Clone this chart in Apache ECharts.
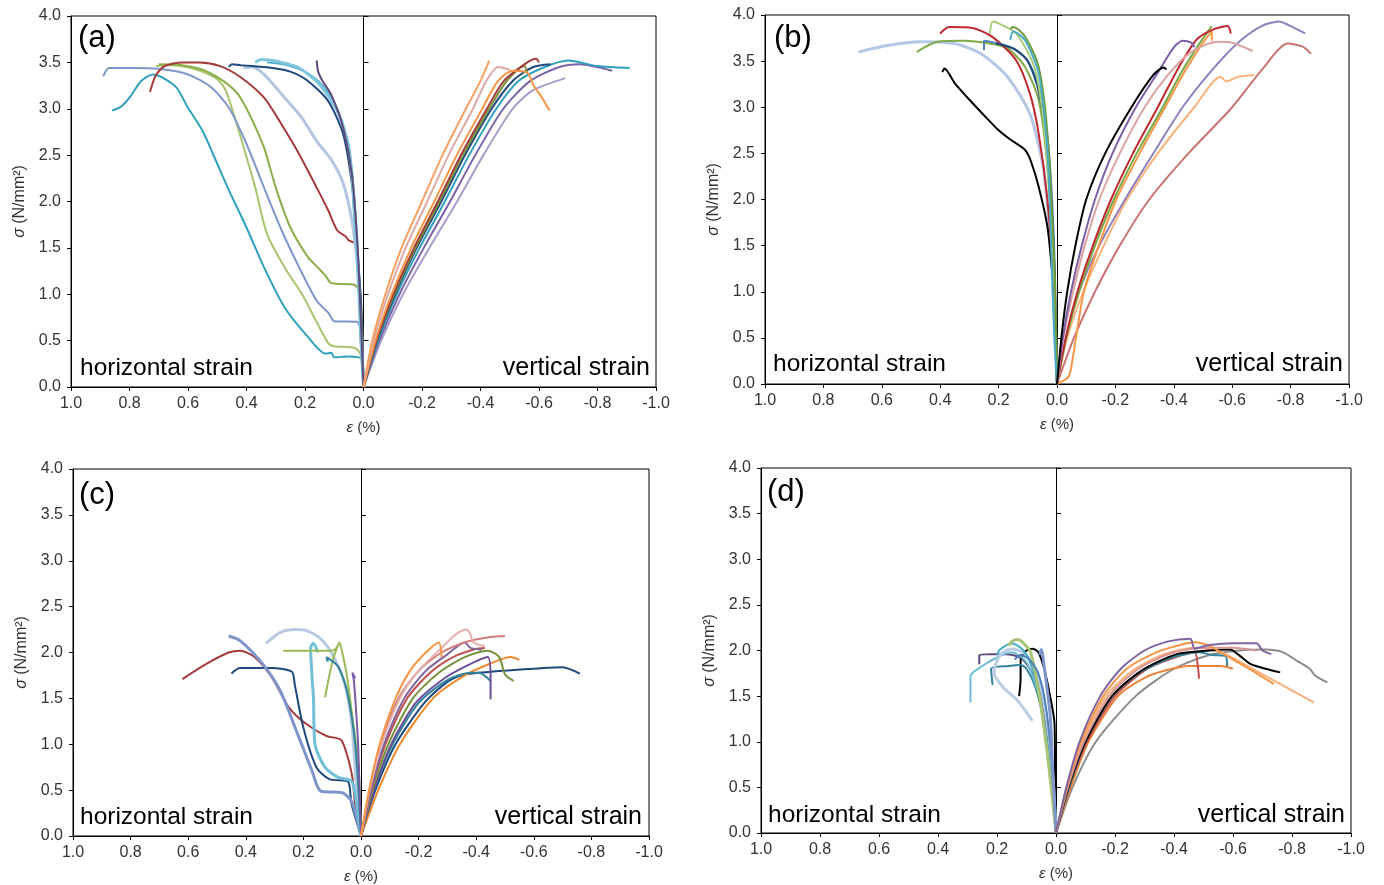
<!DOCTYPE html>
<html><head><meta charset="utf-8">
<script src="https://cdn.jsdelivr.net/npm/echarts/dist/echarts.min.js"></script>
<style>html,body{margin:0;padding:0;background:#fff}#c{width:1384px;height:885px}</style>
</head><body><div id="c"></div><script>
// ---------- tick labels ----------
const xTicks = [-1.0,-0.8,-0.6,-0.4,-0.2,0.0,0.2,0.4,0.6,0.8,1.0];
const yTicks = [0.0,0.5,1.0,1.5,2.0,2.5,3.0,3.5,4.0];
const panelLabels = ['(a)','(b)','(c)','(d)'];
const sideLabels = ['horizontal strain','vertical strain'];

// ---------- panel (a): [strain %, stress N/mm2] ----------
const a_h_teal = [[0,0],[0.005,0.3],[0.05,0.33],[0.10,0.32],[0.11,0.37],[0.13,0.36],[0.19,0.54],[0.27,0.86],[0.34,1.29],[0.40,1.72],[0.46,2.12],[0.51,2.48],[0.55,2.76],[0.60,3.01],[0.64,3.23],[0.69,3.34],[0.72,3.37],[0.76,3.30],[0.80,3.12],[0.83,3.02],[0.86,2.98]];
const a_h_lgreen = [[0,0],[0.01,0.35],[0.03,0.42],[0.10,0.44],[0.12,0.47],[0.16,0.7],[0.21,1.0],[0.27,1.29],[0.33,1.65],[0.37,2.15],[0.40,2.48],[0.43,2.8],[0.47,3.19],[0.50,3.32],[0.58,3.43],[0.66,3.47],[0.71,3.46]];
const a_h_olive = [[0,0],[0.01,1.0],[0.03,1.1],[0.11,1.12],[0.13,1.2],[0.16,1.3],[0.19,1.4],[0.25,1.72],[0.30,2.15],[0.34,2.58],[0.39,2.94],[0.43,3.16],[0.48,3.3],[0.55,3.42],[0.62,3.47],[0.70,3.48]];
const a_h_slate = [[0,0],[0.01,0.5],[0.02,0.7],[0.10,0.71],[0.12,0.8],[0.16,0.93],[0.22,1.29],[0.28,1.69],[0.34,2.15],[0.40,2.62],[0.46,3.01],[0.52,3.23],[0.60,3.37],[0.70,3.43],[0.79,3.44],[0.87,3.44],[0.89,3.35]];
const a_h_dred = [[0,0],[0.01,0.6],[0.02,1.3],[0.03,1.55],[0.05,1.58],[0.06,1.62],[0.09,1.69],[0.12,1.9],[0.16,2.15],[0.22,2.51],[0.28,2.83],[0.34,3.12],[0.42,3.34],[0.49,3.46],[0.56,3.5],[0.62,3.5],[0.68,3.46],[0.71,3.36],[0.73,3.18]];
const a_h_lgrey = [[0,0],[0.01,0.8],[0.02,1.3],[0.04,1.8],[0.07,2.2],[0.11,2.45],[0.16,2.65],[0.21,2.9],[0.27,3.12],[0.34,3.37],[0.38,3.45],[0.41,3.44]];
const a_h_navy = [[0,0],[0.01,1.0],[0.03,1.8],[0.04,2.2],[0.07,2.73],[0.12,3.08],[0.19,3.3],[0.25,3.4],[0.31,3.44],[0.38,3.46],[0.42,3.47],[0.45,3.48],[0.46,3.45]];
const a_h_lcyan = [[0,0],[0.01,0.6],[0.02,1.29],[0.03,1.8],[0.04,2.3],[0.06,2.7],[0.09,2.98],[0.15,3.26],[0.22,3.44],[0.28,3.5],[0.31,3.52],[0.35,3.53],[0.37,3.5]];
const a_h_aqua = [[0,0],[0.015,1.2],[0.03,2.0],[0.05,2.6],[0.09,3.0],[0.14,3.25],[0.2,3.4],[0.26,3.47],[0.33,3.5]];
const a_h_purple = [[0,0],[0.01,0.8],[0.02,1.5],[0.04,2.3],[0.07,2.8],[0.11,3.15],[0.14,3.3],[0.155,3.4],[0.16,3.52]];
const a_v_orange = [[0,0],[-0.03,0.5],[-0.075,1.0],[-0.13,1.5],[-0.2,2.0],[-0.27,2.5],[-0.35,3.0],[-0.40,3.3],[-0.43,3.52]];
const a_v_pink = [[0,0],[-0.0345,0.5],[-0.084,1.0],[-0.144,1.5],[-0.218,2.0],[-0.291,2.5],[-0.374,3.0],[-0.42,3.3],[-0.46,3.45],[-0.5,3.42]];
const a_v_orange2 = [[0,0],[-0.0405,0.5],[-0.096,1.0],[-0.163,1.5],[-0.242,2.0],[-0.319,2.5],[-0.406,3.0],[-0.46,3.3],[-0.51,3.41],[-0.56,3.39],[-0.58,3.26],[-0.61,3.12],[-0.636,2.98]];
const a_v_dred = [[0,0],[-0.0435,0.5],[-0.102,1.0],[-0.173,1.5],[-0.254,2.0],[-0.333,2.5],[-0.422,3.0],[-0.48,3.3],[-0.56,3.5],[-0.59,3.54],[-0.6,3.5]];
const a_v_green = [[0,0],[-0.045,0.5],[-0.105,1.0],[-0.178,1.5],[-0.26,2.0],[-0.34,2.5],[-0.43,3.0],[-0.49,3.3],[-0.55,3.46],[-0.56,3.38]];
const a_v_navy = [[0,0],[-0.0465,0.5],[-0.108,1.0],[-0.182,1.5],[-0.266,2.0],[-0.347,2.5],[-0.438,3.0],[-0.51,3.3],[-0.58,3.45],[-0.64,3.48]];
const a_v_teal = [[0,0],[-0.0495,0.5],[-0.114,1.0],[-0.192,1.5],[-0.278,2.0],[-0.361,2.5],[-0.454,3.0],[-0.53,3.3],[-0.62,3.45],[-0.7,3.52],[-0.8,3.46],[-0.91,3.44]];
const a_v_purple = [[0,0],[-0.054,0.5],[-0.123,1.0],[-0.206,1.5],[-0.296,2.0],[-0.382,2.5],[-0.478,3.0],[-0.57,3.3],[-0.67,3.45],[-0.74,3.48],[-0.8,3.45],[-0.85,3.41]];
const a_v_lav = [[0,0],[-0.06,0.5],[-0.135,1.0],[-0.225,1.5],[-0.32,2.0],[-0.41,2.5],[-0.51,3.0],[-0.58,3.2],[-0.69,3.33]];

// ---------- panel (b) ----------
const b_h_black = [[0,0],[0.005,0.8],[0.018,1.27],[0.033,1.71],[0.063,2.14],[0.09,2.42],[0.11,2.54],[0.16,2.65],[0.2,2.75],[0.24,2.88],[0.276,3.0],[0.35,3.26],[0.385,3.42],[0.393,3.38]];
const b_h_lgrey = [[0,0],[0.01,0.8],[0.025,1.64],[0.048,2.36],[0.093,2.93],[0.17,3.33],[0.26,3.58],[0.35,3.69],[0.47,3.71],[0.58,3.67],[0.68,3.6]];
const b_h_olive = [[0,0],[0.01,1.2],[0.033,2.36],[0.063,3.08],[0.11,3.44],[0.17,3.64],[0.23,3.69],[0.32,3.72],[0.41,3.71],[0.48,3.6]];
const b_h_dred = [[0,0],[0.01,1.0],[0.033,2.0],[0.063,2.72],[0.093,3.15],[0.14,3.51],[0.22,3.76],[0.29,3.86],[0.37,3.87],[0.4,3.8]];
const b_h_lgreen = [[0,0],[0.008,1.0],[0.025,2.0],[0.048,2.9],[0.078,3.44],[0.14,3.8],[0.2,3.91],[0.22,3.93],[0.23,3.8]];
const b_h_green = [[0,0],[0.008,1.2],[0.033,2.72],[0.063,3.44],[0.11,3.77],[0.15,3.87],[0.16,3.85]];
const b_h_aqua = [[0,0],[0.01,0.55],[0.02,1.5],[0.033,2.54],[0.063,3.37],[0.11,3.73],[0.15,3.82],[0.16,3.73]];
const b_h_blue = [[0,0],[0.01,1.5],[0.03,2.6],[0.06,3.2],[0.1,3.5],[0.15,3.64],[0.2,3.69],[0.25,3.72],[0.25,3.62]];
const b_h_navy = [[0,0],[0.012,1.5],[0.035,2.6],[0.065,3.2],[0.1,3.5],[0.14,3.62],[0.18,3.67],[0.21,3.69]];
const b_v_black = [[0,0],[-0.015,0.5],[-0.035,1.0],[-0.063,1.5],[-0.10,2.0],[-0.165,2.5],[-0.255,3.0],[-0.33,3.35],[-0.365,3.43],[-0.375,3.41]];
const b_v_purple = [[0,0],[-0.02,0.5],[-0.048,1.0],[-0.085,1.5],[-0.13,2.0],[-0.19,2.5],[-0.27,3.0],[-0.35,3.4],[-0.40,3.65],[-0.43,3.72],[-0.46,3.7],[-0.47,3.65]];
const b_v_pink = [[0,0],[-0.022,0.5],[-0.055,1.0],[-0.095,1.5],[-0.145,2.0],[-0.215,2.5],[-0.30,3.0],[-0.38,3.35],[-0.46,3.6],[-0.55,3.71],[-0.6,3.7],[-0.67,3.61]];
const b_v_red = [[0,0],[-0.03,0.5],[-0.07,1.0],[-0.123,1.5],[-0.185,2.0],[-0.26,2.5],[-0.345,3.0],[-0.42,3.45],[-0.48,3.74],[-0.54,3.85],[-0.585,3.88],[-0.595,3.8]];
const b_v_green = [[0,0],[-0.032,0.5],[-0.076,1.0],[-0.13,1.5],[-0.195,2.0],[-0.273,2.5],[-0.362,3.0],[-0.43,3.4],[-0.49,3.7],[-0.53,3.88]];
const b_v_orange = [[0,0],[-0.04,0.08],[-0.055,0.3],[-0.065,0.5],[-0.092,1.0],[-0.143,1.5],[-0.203,2.0],[-0.283,2.5],[-0.37,3.0],[-0.44,3.4],[-0.5,3.7],[-0.53,3.82],[-0.53,3.72]];
const b_v_lpurple = [[0,0],[-0.03,0.5],[-0.075,1.0],[-0.145,1.5],[-0.233,2.0],[-0.33,2.5],[-0.43,3.0],[-0.53,3.4],[-0.62,3.7],[-0.7,3.88],[-0.76,3.93],[-0.8,3.88],[-0.85,3.8]];
const b_v_lorange = [[0,0],[-0.035,0.5],[-0.09,1.0],[-0.16,1.5],[-0.24,2.0],[-0.345,2.5],[-0.47,3.0],[-0.56,3.33],[-0.58,3.28],[-0.62,3.33],[-0.675,3.35]];
const b_v_rosy = [[0,0],[-0.058,0.5],[-0.13,1.0],[-0.215,1.5],[-0.316,2.0],[-0.45,2.5],[-0.6,3.0],[-0.7,3.4],[-0.79,3.69],[-0.84,3.66],[-0.87,3.58]];

// ---------- panel (c) ----------
const c_h_dred = [[0,0],[0.018,0.27],[0.03,0.64],[0.05,0.9],[0.07,1.05],[0.12,1.09],[0.19,1.22],[0.25,1.4],[0.31,1.73],[0.37,1.95],[0.42,2.02],[0.46,2.0],[0.54,1.87],[0.62,1.71]];
const c_h_navy = [[0,0],[0.033,0.35],[0.04,0.55],[0.048,0.6],[0.11,0.62],[0.155,0.75],[0.2,1.18],[0.23,1.65],[0.24,1.79],[0.31,1.83],[0.42,1.83],[0.45,1.77]];
const c_h_slate = [[0,0],[0.02,0.25],[0.033,0.38],[0.064,0.47],[0.14,0.49],[0.17,0.71],[0.22,1.11],[0.28,1.58],[0.34,1.87],[0.42,2.13],[0.46,2.18]];
const c_h_lgrey = [[0,0],[0.018,0.64],[0.033,1.25],[0.056,1.65],[0.094,1.95],[0.14,2.15],[0.19,2.24],[0.23,2.25],[0.28,2.22],[0.33,2.1]];
const c_h_lcyan = [[0,0],[0.02,0.45],[0.033,0.6],[0.08,0.64],[0.125,0.75],[0.16,1.0],[0.165,1.5],[0.17,1.73],[0.175,2.05],[0.165,2.1],[0.15,2.0]];
const c_h_green1 = [[0,0],[0.01,0.8],[0.03,1.3],[0.048,1.73],[0.065,2.0],[0.075,2.11],[0.085,2.05],[0.1,2.02],[0.27,2.02]];
const c_h_green2 = [[0.075,2.11],[0.095,1.95],[0.11,1.75],[0.125,1.51]];
const c_h_teal = [[0,0],[0.02,1.0],[0.05,1.6],[0.08,1.85],[0.12,1.95],[0.115,1.9]];
const c_h_purple = [[0,0],[0.01,1.0],[0.02,1.5],[0.025,1.7],[0.03,1.78],[0.02,1.72]];
const c_v_orange = [[0,0],[-0.028,0.5],[-0.065,1.0],[-0.12,1.5],[-0.17,1.8],[-0.225,2.0],[-0.27,2.11],[-0.28,1.95]];
const c_v_pink = [[0,0],[-0.03,0.5],[-0.072,1.0],[-0.135,1.5],[-0.2,1.8],[-0.28,2.05],[-0.33,2.2],[-0.365,2.25],[-0.38,2.2],[-0.39,2.11],[-0.43,2.07]];
const c_v_rosy = [[0,0],[-0.03,0.5],[-0.068,1.0],[-0.13,1.5],[-0.2,1.8],[-0.28,2.0],[-0.37,2.12],[-0.45,2.17],[-0.5,2.18]];
const c_v_purple = [[0,0],[-0.035,0.5],[-0.08,1.0],[-0.15,1.5],[-0.225,1.8],[-0.3,1.98],[-0.36,2.11],[-0.38,2.05],[-0.42,2.03]];
const c_v_red = [[0,0],[-0.036,0.5],[-0.085,1.0],[-0.16,1.5],[-0.24,1.78],[-0.32,1.95],[-0.4,2.04],[-0.43,2.05]];
const c_v_green = [[0,0],[-0.04,0.5],[-0.095,1.0],[-0.18,1.5],[-0.27,1.78],[-0.36,1.95],[-0.44,2.02],[-0.48,1.95],[-0.5,1.76],[-0.53,1.69]];
const c_v_dpurple = [[0,0],[-0.045,0.5],[-0.105,1.0],[-0.19,1.45],[-0.29,1.72],[-0.37,1.86],[-0.44,1.95],[-0.45,1.7],[-0.45,1.49]];
const c_v_teal = [[0,0],[-0.045,0.5],[-0.11,1.0],[-0.2,1.45],[-0.3,1.7],[-0.38,1.78],[-0.41,1.78],[-0.45,1.69]];
const c_v_navy = [[0,0],[-0.05,0.5],[-0.12,1.0],[-0.22,1.45],[-0.3,1.68],[-0.36,1.76],[-0.45,1.79],[-0.58,1.82],[-0.7,1.84],[-0.76,1.77]];
const c_v_orange2 = [[0,0],[-0.06,0.5],[-0.135,1.0],[-0.25,1.5],[-0.36,1.75],[-0.45,1.88],[-0.52,1.95],[-0.55,1.92]];

// ---------- panel (d) ----------
const d_h_purple = [[0,0],[0.01,0.5],[0.025,1.0],[0.05,1.5],[0.08,1.75],[0.12,1.92],[0.17,1.96],[0.22,1.96],[0.26,1.95],[0.26,1.85]];
const d_h_black = [[0,0],[0.003,0.6],[0.005,1.2],[0.02,1.5],[0.04,1.8],[0.06,1.98],[0.08,2.02],[0.1,2.0],[0.12,1.9],[0.12,1.7],[0.125,1.5]];
const d_h_lgreen = [[0,0],[0.026,0.78],[0.056,1.5],[0.086,1.98],[0.11,2.08],[0.13,2.12],[0.15,2.1],[0.16,2.05]];
const d_h_aqua = [[0,0],[0.02,0.7],[0.05,1.4],[0.08,1.8],[0.11,2.0],[0.15,2.08],[0.19,2.01],[0.2,1.95]];
const d_h_teal = [[0,0],[0.015,0.6],[0.04,1.2],[0.07,1.6],[0.1,1.8],[0.12,1.84],[0.16,1.83],[0.22,1.8],[0.215,1.62]];
const d_h_lcyan = [[0,0],[0.02,0.6],[0.056,1.47],[0.1,1.87],[0.15,1.98],[0.19,1.94],[0.25,1.83],[0.29,1.72],[0.29,1.43]];
const d_h_lgrey = [[0,0],[0.01,0.6],[0.03,1.2],[0.06,1.7],[0.1,1.95],[0.15,2.02],[0.19,1.95],[0.21,1.76],[0.18,1.6],[0.13,1.45],[0.08,1.23]];
const d_h_slate = [[0,0],[0.01,0.6],[0.02,1.3],[0.035,1.7],[0.045,1.95],[0.05,2.01],[0.055,1.95]];
const d_h_blue = [[0,0],[0.015,0.8],[0.035,1.4],[0.06,1.75],[0.09,1.9],[0.12,1.95],[0.14,1.9]];
const d_v_purple = [[0,0],[-0.035,0.5],[-0.08,1.0],[-0.15,1.5],[-0.22,1.8],[-0.3,2.0],[-0.38,2.1],[-0.455,2.13],[-0.47,2.02],[-0.52,2.06],[-0.6,2.08],[-0.68,2.08],[-0.7,2.0],[-0.73,1.96]];
const d_v_orange = [[0,0],[-0.037,0.5],[-0.085,1.0],[-0.16,1.5],[-0.24,1.8],[-0.34,1.98],[-0.42,2.06],[-0.47,2.09],[-0.52,2.05],[-0.6,1.9],[-0.68,1.75],[-0.74,1.63]];
const d_v_lorange = [[0,0],[-0.04,0.5],[-0.09,1.0],[-0.17,1.5],[-0.26,1.78],[-0.36,1.95],[-0.47,2.03],[-0.56,1.98],[-0.65,1.83],[-0.75,1.65],[-0.875,1.43]];
const d_v_rosy = [[0,0],[-0.04,0.5],[-0.095,1.0],[-0.18,1.5],[-0.28,1.8],[-0.39,1.97],[-0.5,2.03],[-0.6,2.03],[-0.68,2.0]];
const d_v_black = [[0,0],[-0.042,0.5],[-0.1,1.0],[-0.19,1.5],[-0.29,1.78],[-0.41,1.96],[-0.52,2.0],[-0.59,2.01],[-0.62,1.95],[-0.66,1.85],[-0.71,1.8],[-0.76,1.76]];
const d_v_teal = [[0,0],[-0.044,0.5],[-0.1,1.0],[-0.19,1.5],[-0.28,1.75],[-0.39,1.92],[-0.485,1.98],[-0.53,1.95],[-0.575,1.94],[-0.58,1.83]];
const d_v_red = [[0,0],[-0.045,0.5],[-0.105,1.0],[-0.2,1.5],[-0.31,1.8],[-0.41,1.93],[-0.47,1.98],[-0.48,1.85],[-0.485,1.69]];
const d_v_orange3 = [[0,0],[-0.05,0.5],[-0.11,1.0],[-0.21,1.5],[-0.3,1.7],[-0.37,1.78],[-0.45,1.83],[-0.56,1.83],[-0.6,1.8]];
const d_v_grey = [[0,0],[-0.056,0.5],[-0.135,1.0],[-0.27,1.5],[-0.4,1.8],[-0.52,1.95],[-0.62,2.0],[-0.71,2.01],[-0.77,1.98],[-0.82,1.88],[-0.86,1.8],[-0.88,1.72],[-0.92,1.65]];

// ---------- styles (colour, width) per curve ----------
const panels = [
 [[a_h_teal,'#2FA0BC',2],[a_h_lgreen,'#A8C56E',2],[a_h_olive,'#8AAE48',2],[a_h_slate,'#7F96CC',2],[a_h_dred,'#A23B3A',2],[a_h_lgrey,'#B3C5E0',3],[a_h_navy,'#1F497D',2],[a_h_aqua,'#4BACC6',2],[a_h_lcyan,'#7EC6DD',3],[a_h_purple,'#5F497A',2],
  [a_v_lav,'#A99BCB',2],[a_v_purple,'#7A62A8',2],[a_v_teal,'#31A0BC',2],[a_v_navy,'#1F497D',2],[a_v_green,'#77933C',2],[a_v_dred,'#A23B3A',2],[a_v_orange2,'#F79646',2],[a_v_pink,'#DDA8A6',2],[a_v_orange,'#F8A060',2]],
 [[b_h_lgrey,'#B4C7E7',3],[b_h_black,'#000000',2],[b_h_olive,'#7FAA45',2],[b_h_dred,'#C0282D',2],[b_h_blue,'#4F81BD',2],[b_h_navy,'#1F497D',2],[b_h_lgreen,'#A8CC7A',2],[b_h_green,'#6E9B3A',2],[b_h_aqua,'#4BACC6',2],
  [b_v_rosy,'#C97472',2],[b_v_lorange,'#F9B47C',2],[b_v_lpurple,'#9080C0',2],[b_v_orange,'#F79646',2],[b_v_green,'#77A845',2],[b_v_red,'#C0282D',2],[b_v_pink,'#DDA3A2',2],[b_v_purple,'#7C5FA8',2],[b_v_black,'#000000',2]],
 [[c_h_dred,'#A23B3A',2],[c_h_navy,'#1F497D',2],[c_h_slate,'#7F96CC',3],[c_h_lgrey,'#B8CAE2',3],[c_h_lcyan,'#6FC0D8',3],[c_h_green1,'#9BBB59',2],[c_h_green2,'#9BBB59',2],[c_h_teal,'#31849B',2],[c_h_purple,'#7B5BA6',2],
  [c_v_navy,'#1F497D',2],[c_v_orange2,'#F08A2C',2],[c_v_teal,'#31849B',2],[c_v_dpurple,'#6B4E9B',2],[c_v_green,'#77933C',2],[c_v_red,'#C0504D',2],[c_v_purple,'#8064A2',2],[c_v_rosy,'#D07D7B',2],[c_v_pink,'#E6B0AE',2],[c_v_orange,'#F79646',2]],
 [[d_h_purple,'#5F497A',2],[d_h_black,'#000000',2],[d_h_teal,'#31849B',2],[d_h_lcyan,'#6FBCD6',2],[d_h_lgrey,'#B9CDE5',3],[d_h_aqua,'#4BACC6',2],[d_h_lgreen,'#A9C574',3],[d_h_blue,'#4F81BD',2],[d_h_slate,'#7F96CC',3],
  [d_v_grey,'#8C8C8C',2],[d_v_lorange,'#FAB07A',2],[d_v_orange3,'#E8843A',2],[d_v_red,'#C0504D',2],[d_v_teal,'#31849B',2],[d_v_black,'#000000',2],[d_v_rosy,'#D99694',2],[d_v_orange,'#F79646',2],[d_v_purple,'#8064A2',2]]
];

const grids = [
 {left:71, top:16, width:585, height:371},
 {left:765, top:15, width:584, height:369},
 {left:73, top:469, width:576, height:367},
 {left:761, top:468, width:590, height:365}
];
const labelPos = [
 {p:[78,38], h:[80,368], v:[650,368]},
 {p:[774,38], h:[773,364], v:[1343,364]},
 {p:[79,495], h:[80,817], v:[642,817]},
 {p:[767,492], h:[768,815], v:[1345,815]}
];

const FONT = '"Liberation Sans", Arial, sans-serif';
const fmt = v => (Math.abs(v) < 1e-9 ? 0 : v).toFixed(1);
const xAxis = [], yAxis = [], series = [], graphic = [];
grids.forEach((g, i) => {
  xAxis.push({
    gridIndex:i, type:'value', inverse:true,
    min:xTicks[0], max:xTicks[xTicks.length-1], interval:0.2,
    axisLine:{onZero:false, lineStyle:{color:'#000', width:1}},
    axisTick:{show:true, length:4, lineStyle:{color:'#000'}},
    axisLabel:{formatter:fmt, fontSize:16, color:'#333', margin:9, fontFamily:FONT},
    splitLine:{show:false},
    name:'{i|ε} (%)', nameLocation:'middle', nameGap:33,
    nameTextStyle:{fontSize:15, color:'#333', fontFamily:FONT, rich:{i:{fontStyle:'italic', fontSize:15, color:'#333', fontFamily:FONT}}}
  });
  yAxis.push({
    gridIndex:i, type:'value', position:'left',
    min:yTicks[0], max:yTicks[yTicks.length-1], interval:0.5,
    axisLine:{show:true, onZero:false, lineStyle:{color:'#000', width:1}},
    axisTick:{show:true, length:4, lineStyle:{color:'#000'}},
    axisLabel:{formatter:fmt, fontSize:16, color:'#333', margin:10, fontFamily:FONT},
    splitLine:{show:false},
    name:'{i|σ} (N/mm²)', nameLocation:'middle', nameGap:43, nameRotate:90,
    nameTextStyle:{fontSize:16, color:'#333', fontFamily:FONT, rich:{i:{fontStyle:'italic', fontSize:16, color:'#333', fontFamily:FONT}}}
  });
  yAxis.push({
    gridIndex:i, type:'value', position:'right',
    min:yTicks[0], max:yTicks[yTicks.length-1], interval:0.5,
    axisLine:{show:true, onZero:true, lineStyle:{color:'#000', width:1}},
    axisTick:{show:true, length:5, inside:false, lineStyle:{color:'#000'}},
    axisLabel:{show:false}, splitLine:{show:false}
  });
  panels[i].forEach(([data, color, w]) => {
    series.push({
      type:'line', xAxisIndex:i, yAxisIndex:2*i, data:data,
      showSymbol:false, symbol:'none', smooth:0.25, silent:true,
      lineStyle:{color:color, width:w}, z:2
    });
  });
  const lp = labelPos[i];
  graphic.push({type:'text', x:lp.p[0], y:lp.p[1], z:10, style:{text:panelLabels[i], fontSize:31, fill:'#000', fontFamily:FONT, textVerticalAlign:'middle'}});
  graphic.push({type:'text', x:lp.h[0], y:lp.h[1], z:10, style:{text:sideLabels[0], fontSize:24.5, fill:'#000', fontFamily:FONT, textVerticalAlign:'middle'}});
  graphic.push({type:'text', x:lp.v[0], y:lp.v[1], z:10, style:{text:sideLabels[1], fontSize:25, fill:'#000', fontFamily:FONT, textAlign:'right', textVerticalAlign:'middle'}});
});

const chart = echarts.init(document.getElementById('c'), null, {renderer:'canvas'});
chart.setOption({
  animation:false,
  backgroundColor:'#fff',
  grid: grids.map(g => Object.assign({show:true, borderColor:'#000', borderWidth:1, backgroundColor:'transparent'}, g)),
  xAxis, yAxis, series, graphic
});
</script></body></html>
